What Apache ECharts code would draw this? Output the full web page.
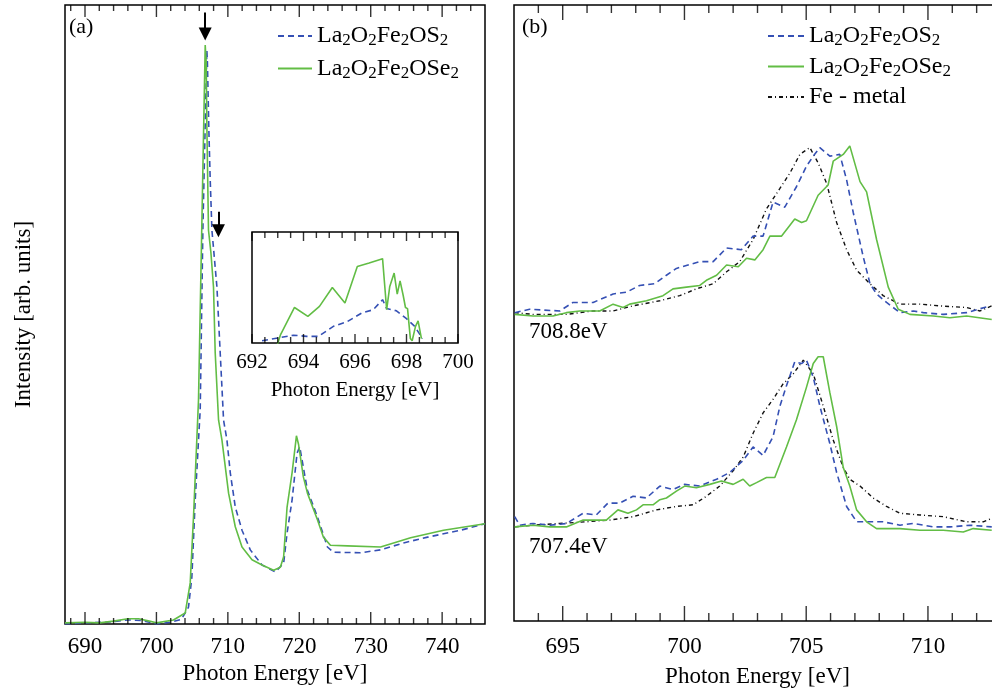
<!DOCTYPE html>
<html>
<head>
<meta charset="utf-8">
<script src="https://cdn.jsdelivr.net/npm/echarts@6/dist/echarts.min.js"></script>
<style>
html, body { margin: 0; padding: 0; background: #fff; }
#chart { width: 992px; height: 688px; }
</style>
</head>
<body>
<div id="chart"></div>
<script>
// ---- panel (a): full L-edge spectra ----
const aTicks = [690, 700, 710, 720, 730, 740];
const aMinor = [688, 692, 694, 696, 698, 702, 704, 706, 708, 712, 714, 716, 718, 722, 724, 726, 728, 732, 734, 736, 738, 742, 744];
const aSx = [687.2, 690, 693, 696, 698, 700, 702, 703.5, 704.49, 704.96, 705.43, 706.13, 706.5, 707.06, 707.14, 707.34, 707.53, 707.77, 708.47, 708.93, 709.4, 709.87, 710.34, 711.04, 711.98, 713.14, 714.78, 716.65, 717.81, 718.29, 718.99, 719.69, 720.06, 721.14, 722.54, 723.94, 724.78, 728.57, 731.37, 734.6, 737.97, 742.6, 746];
const aSy = [0.000, 0.002, 0.003, 0.007, 0.006, 0.000, 0.003, 0.008, 0.029, 0.081, 0.214, 0.370, 0.680, 0.991, 0.969, 0.853, 0.767, 0.680, 0.582, 0.468, 0.352, 0.318, 0.261, 0.202, 0.162, 0.128, 0.102, 0.090, 0.105, 0.157, 0.214, 0.295, 0.306, 0.231, 0.185, 0.133, 0.124, 0.123, 0.128, 0.140, 0.150, 0.162, 0.173];
const aSex = [687.2, 690, 692, 694, 696, 697.5, 699, 700, 702.38, 704.03, 704.73, 705.19, 705.89, 706.37, 706.83, 706.97, 707.07, 707.29, 707.63, 707.99, 708.23, 708.7, 709.17, 710.1, 711.04, 711.98, 713.38, 714.78, 716.41, 717.35, 717.81, 718.29, 718.99, 719.6, 719.9, 720.57, 721.14, 722.54, 723.38, 724.36, 726.75, 731.37, 733.2, 735.58, 740.2, 746];
const aSey = [0.002, 0.003, 0.002, 0.005, 0.009, 0.009, 0.005, 0.002, 0.007, 0.019, 0.071, 0.185, 0.387, 0.698, 1.0, 0.969, 0.853, 0.680, 0.641, 0.582, 0.468, 0.352, 0.318, 0.226, 0.168, 0.133, 0.111, 0.102, 0.093, 0.098, 0.116, 0.202, 0.261, 0.325, 0.310, 0.254, 0.226, 0.180, 0.150, 0.136, 0.135, 0.133, 0.140, 0.149, 0.162, 0.173];
// arrows: [energy, top, head centre]
const arrows = [[706.83, 1.056, 1.019], [708.68, 0.712, 0.679]];

// ---- inset: pre-edge region ----
const inTicks = [692, 694, 696, 698, 700];
const inMinor = [692.5, 693, 693.5, 694.5, 695, 695.5, 696.5, 697, 697.5, 698.5, 699, 699.5];
const inSx = [692.39, 693.10, 693.61, 694.13, 694.58, 695.16, 695.68, 696.26, 696.71, 697.07, 697.23, 697.61, 698.0, 698.32, 698.62];
const inSy = [0.02, 0.05, 0.07, 0.06, 0.06, 0.15, 0.19, 0.27, 0.30, 0.39, 0.31, 0.29, 0.22, 0.15, 0.04];
const inSex = [692.99, 693.10, 693.65, 694.17, 694.62, 695.12, 695.61, 696.09, 696.55, 697.07, 697.23, 697.35, 697.52, 697.64, 697.75, 697.87, 697.96, 698.04, 698.15, 698.22, 698.35, 698.45, 698.58];
const inSey = [-0.01, 0.07, 0.32, 0.24, 0.33, 0.50, 0.36, 0.69, 0.72, 0.76, 0.30, 0.51, 0.63, 0.44, 0.56, 0.43, 0.32, 0.31, 0.04, 0.02, 0.15, 0.20, 0.04];

// ---- panel (b): spectra at two excitation energies ----
const bTicks = [695, 700, 705, 710];
const bMinor = [694, 696, 697, 698, 699, 701, 702, 703, 704, 706, 707, 708, 709, 711, 712];
const bLabels = ['708.8eV', '707.4eV'];
const bOffsets = [1.812, 0.553];
// upper (708.8 eV)
const bHiSx = [693.03, 693.64, 694.88, 695.42, 696.25, 697.07, 697.62, 698.16, 698.78, 699.26, 699.67, 700.63, 701.18, 701.73, 702.34, 702.82, 703.23, 703.64, 704.12, 704.6, 705.01, 705.29, 705.56, 705.97, 706.38, 706.66, 706.93, 707.34, 707.62, 707.89, 708.3, 708.85, 709.4, 709.81, 710.63, 711.59, 712.55];
const bHiSy = [0.00, 0.02, 0.01, 0.06, 0.06, 0.11, 0.12, 0.16, 0.17, 0.22, 0.26, 0.30, 0.30, 0.38, 0.37, 0.45, 0.45, 0.65, 0.62, 0.74, 0.86, 0.92, 0.97, 0.92, 0.93, 0.78, 0.59, 0.33, 0.17, 0.11, 0.06, 0.00, 0.01, 0.00, -0.01, 0.00, 0.04];
const bHiSex = [693.03, 693.78, 694.6, 695.15, 695.7, 696.52, 697.07, 697.48, 697.75, 698.44, 699.12, 699.53, 700.08, 700.63, 700.9, 701.32, 701.73, 702.21, 702.55, 702.89, 703.23, 703.51, 703.99, 704.53, 704.81, 705.01, 705.49, 705.9, 706.11, 706.52, 706.79, 707.21, 707.48, 707.89, 708.37, 708.78, 709.26, 710.22, 710.9, 711.59, 712.62];
const bHiSey = [-0.01, -0.02, -0.02, 0.0, 0.01, 0.01, 0.05, 0.03, 0.05, 0.07, 0.10, 0.14, 0.15, 0.16, 0.19, 0.22, 0.28, 0.27, 0.32, 0.31, 0.37, 0.45, 0.45, 0.55, 0.53, 0.54, 0.69, 0.75, 0.89, 0.93, 0.98, 0.77, 0.71, 0.43, 0.15, 0.02, -0.01, -0.02, -0.03, -0.02, -0.04];
const bHiFex = [693.03, 693.78, 695.15, 696.25, 697.07, 697.89, 698.99, 699.81, 700.49, 701.18, 701.73, 702.27, 702.82, 703.37, 703.92, 704.33, 704.74, 705.15, 705.49, 705.84, 706.25, 706.66, 707.07, 707.62, 708.16, 708.85, 709.67, 710.49, 711.59, 712.14, 712.62];
const bHiFey = [0.00, -0.01, -0.01, 0.01, 0.01, 0.04, 0.07, 0.10, 0.14, 0.17, 0.24, 0.30, 0.43, 0.61, 0.73, 0.82, 0.93, 0.97, 0.88, 0.76, 0.53, 0.37, 0.25, 0.17, 0.10, 0.05, 0.05, 0.04, 0.03, 0.01, 0.04];
// lower (707.4 eV)
const bLoSx = [693.03, 693.23, 693.78, 694.47, 695.15, 695.84, 696.38, 696.86, 697.34, 697.89, 698.44, 698.99, 699.53, 700.01, 700.63, 701.32, 701.86, 702.41, 702.82, 703.23, 703.64, 703.92, 704.19, 704.53, 704.81, 705.01, 705.29, 705.56, 705.97, 706.25, 706.66, 707.07, 707.48, 708.16, 708.85, 709.4, 710.22, 710.9, 711.73, 712.62];
const bLoSy = [0.06, 0.01, 0.02, 0.01, 0.02, 0.08, 0.07, 0.14, 0.14, 0.18, 0.17, 0.24, 0.22, 0.25, 0.24, 0.28, 0.32, 0.39, 0.47, 0.42, 0.53, 0.71, 0.83, 0.97, 0.96, 0.98, 0.88, 0.71, 0.49, 0.32, 0.12, 0.03, 0.03, 0.03, 0.01, 0.02, 0.00, 0.00, 0.01, 0.00];
const bLoSex = [693.03, 693.78, 694.47, 695.15, 695.84, 696.38, 696.79, 697.27, 697.68, 698.03, 698.3, 698.71, 698.99, 699.26, 699.67, 700.01, 700.49, 701.04, 701.52, 702.0, 702.41, 702.68, 702.96, 703.37, 703.71, 704.19, 704.6, 705.01, 705.29, 705.49, 705.7, 705.97, 706.25, 706.52, 706.79, 707.07, 707.48, 707.89, 708.85, 709.67, 710.63, 711.45, 711.86, 712.62];
const bLoSey = [0.00, 0.01, 0.00, 0.00, 0.04, 0.04, 0.04, 0.10, 0.08, 0.10, 0.13, 0.13, 0.16, 0.17, 0.21, 0.24, 0.23, 0.25, 0.27, 0.25, 0.28, 0.24, 0.26, 0.29, 0.29, 0.47, 0.63, 0.82, 0.96, 1.00, 1.00, 0.79, 0.59, 0.35, 0.24, 0.10, 0.03, -0.01, -0.01, -0.02, -0.02, -0.03, -0.01, -0.02];
const bLoFex = [693.03, 693.78, 694.88, 695.97, 696.93, 697.89, 698.85, 699.67, 700.36, 700.9, 701.45, 702.0, 702.41, 702.82, 703.23, 703.64, 704.05, 704.47, 704.88, 705.29, 705.7, 706.11, 706.52, 706.79, 707.21, 707.75, 708.3, 708.85, 709.67, 710.63, 711.59, 712.27, 712.62];
const bLoFey = [0.00, 0.01, 0.02, 0.03, 0.04, 0.06, 0.10, 0.12, 0.13, 0.18, 0.24, 0.33, 0.41, 0.55, 0.67, 0.75, 0.84, 0.90, 0.98, 0.90, 0.71, 0.51, 0.35, 0.28, 0.24, 0.17, 0.12, 0.08, 0.07, 0.06, 0.03, 0.03, 0.05];

const NAME_S = 'La2O2Fe2OS2';
const NAME_SE = 'La2O2Fe2OSe2';
const NAME_FE = 'Fe - metal';
const BLUE = '#3550b4';
const GREEN = '#62bd45';
const FONT = '"Liberation Serif", "DejaVu Serif", serif';

// y ranges of the three boxes
const yMaxA = 1.069, yMaxIn = 1, yMaxB = 3.62;

function zip(xs, ys, off) {
    off = off || 0;
    return xs.map((x, i) => [x, ys[i] + off]);
}

const nameStyle = { fontFamily: FONT, fontSize: 23, color: '#000' };

function xAxisFor(grid, min, max, labels, fontSize, margin, nameGap) {
    return {
        type: 'value', gridIndex: grid, position: 'bottom', min: min, max: max,
        axisLine: { show: false }, splitLine: { show: false }, axisTick: { show: false },
        axisLabel: { show: true, customValues: labels, color: '#000', fontFamily: FONT,
            fontSize: fontSize, margin: margin },
        name: 'Photon Energy [eV]', nameLocation: 'middle', nameGap: nameGap,
        nameTextStyle: Object.assign({}, nameStyle, { fontSize: fontSize })
    };
}

const hiddenY = {
    type: 'value', min: 0, axisLine: { show: false }, axisTick: { show: false },
    axisLabel: { show: false }, splitLine: { show: false }
};

const styleS = { color: BLUE, width: 1.6, type: [6, 4] };
const styleSe = { color: GREEN, width: 1.6, type: 'solid' };
const styleFe = { color: '#111', width: 1.4, type: [4, 3, 1, 3] };

function line(name, idx, data, ls, extra) {
    return Object.assign({
        name: name, type: 'line', xAxisIndex: idx, yAxisIndex: idx,
        data: data, showSymbol: false, symbol: 'none',
        lineStyle: ls, itemStyle: { color: ls.color }, silent: true, z: 3
    }, extra);
}

// inward tick marks along the bottom (y = 0) and top (y = max) of a box
function ticks(idx, values, yMax, len) {
    const mk = (y, dir) => ({
        type: 'scatter', xAxisIndex: idx, yAxisIndex: idx, silent: true, clip: false, z: 5,
        data: values.map(v => [v, y]),
        symbol: 'rect', symbolSize: [1.4, len], symbolOffset: [0, dir * len / 2],
        itemStyle: { color: '#000' }
    });
    return [mk(0, -1), mk(yMax, 1)];
}

const series = [
    line(NAME_S, 0, zip(aSx, aSy), styleS),
    line(NAME_SE, 0, zip(aSex, aSey), styleSe, {
        markLine: {
            silent: true, symbol: ['none', 'triangle'], symbolSize: 13,
            label: { show: false },
            lineStyle: { color: '#000', width: 2, type: 'solid' },
            itemStyle: { color: '#000' },
            data: arrows.map(a => [{ coord: [a[0], a[1]] }, { coord: [a[0], a[2]] }])
        }
    }),
    line(NAME_S, 1, zip(inSx, inSy), styleS),
    line(NAME_SE, 1, zip(inSex, inSey), styleSe),
    line(NAME_FE, 2, zip(bHiFex, bHiFey, bOffsets[0]), styleFe),
    line(NAME_S, 2, zip(bHiSx, bHiSy, bOffsets[0]), styleS),
    line(NAME_SE, 2, zip(bHiSex, bHiSey, bOffsets[0]), styleSe),
    line(NAME_FE, 2, zip(bLoFex, bLoFey, bOffsets[1]), styleFe),
    line(NAME_S, 2, zip(bLoSx, bLoSy, bOffsets[1]), styleS),
    line(NAME_SE, 2, zip(bLoSex, bLoSey, bOffsets[1]), styleSe)
].concat(
    ticks(0, aTicks, yMaxA, 12), ticks(0, aMinor, yMaxA, 6),
    ticks(1, inTicks, yMaxIn, 9), ticks(1, inMinor, yMaxIn, 6),
    ticks(2, bTicks, yMaxB, 15), ticks(2, bMinor, yMaxB, 8)
);

// chemical formulas: digits as subscripts
function formula(name) {
    return name.split(/(\d)/).filter(Boolean)
        .map(p => /\d/.test(p) ? '{s|' + p + '}' : '{n|' + p + '}').join('');
}
const legendText = {
    color: '#000', fontFamily: FONT, fontSize: 24,
    rich: {
        n: { fontFamily: FONT, fontSize: 24, color: '#000' },
        s: { fontFamily: FONT, fontSize: 17, color: '#000', padding: [10, 0, 0, 0] }
    }
};
const legendBase = {
    orient: 'vertical', itemHeight: 12, formatter: formula, textStyle: legendText,
    selectedMode: false, itemStyle: { opacity: 0 }, padding: 0
};

const frame = { show: true, borderColor: '#000', borderWidth: 1.5, backgroundColor: 'transparent',
    outerBoundsMode: 'none', containLabel: false };

const chart = echarts.init(document.getElementById('chart'));
chart.setOption({
    animation: false,
    backgroundColor: '#fff',
    grid: [
        Object.assign({ left: 65, top: 5, width: 420, height: 619 }, frame),
        Object.assign({ left: 252, top: 232, width: 206, height: 111 }, frame),
        Object.assign({ left: 514, top: 5, width: 487, height: 616 }, frame)
    ],
    xAxis: [
        xAxisFor(0, 687.2, 746, aTicks, 23, 11, 36),
        xAxisFor(1, 692, 700, inTicks, 21, 9, 37),
        xAxisFor(2, 693, 713, bTicks, 23, 14, 44)
    ],
    yAxis: [
        Object.assign({}, hiddenY, { gridIndex: 0, max: yMaxA,
            name: 'Intensity [arb. units]', nameLocation: 'middle', nameGap: 30, nameTextStyle: nameStyle }),
        Object.assign({}, hiddenY, { gridIndex: 1, max: yMaxIn }),
        Object.assign({}, hiddenY, { gridIndex: 2, max: yMaxB })
    ],
    legend: [
        Object.assign({ left: 277, top: 24, itemWidth: 34, itemGap: 7, data: [NAME_S, NAME_SE] }, legendBase),
        Object.assign({ left: 767, top: 24, itemWidth: 36, itemGap: 5, data: [NAME_S, NAME_SE, NAME_FE] }, legendBase)
    ],
    graphic: [
        { type: 'text', left: 69, top: 16, style: { text: '(a)', font: '22px ' + FONT, fill: '#000' } },
        { type: 'text', left: 522, top: 16, style: { text: '(b)', font: '22px ' + FONT, fill: '#000' } },
        { type: 'text', left: 529, top: 320, style: { text: bLabels[0], font: '23px ' + FONT, fill: '#000' } },
        { type: 'text', left: 529, top: 535, style: { text: bLabels[1], font: '23px ' + FONT, fill: '#000' } }
    ],
    series: series
});
</script>
</body>
</html>
